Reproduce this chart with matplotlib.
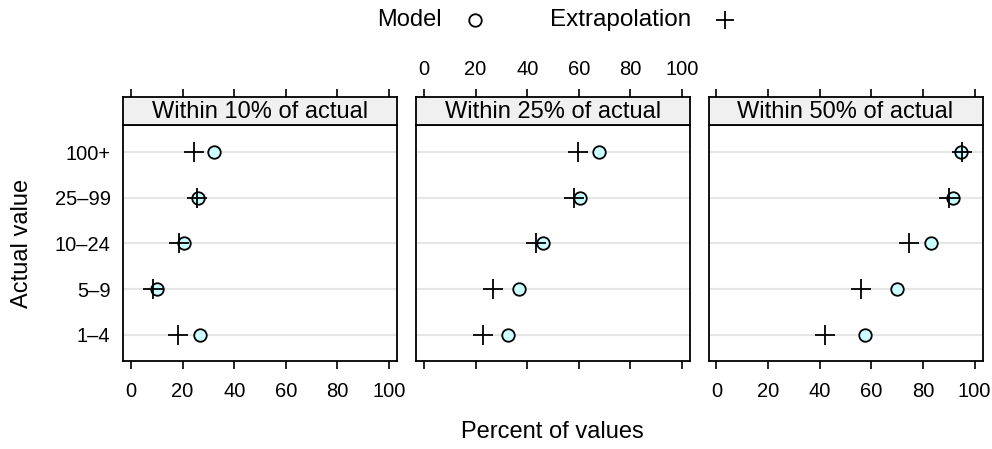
import matplotlib.pyplot as plt
from matplotlib.lines import Line2D

plt.rcParams['font.family'] = ['Liberation Sans', 'DejaVu Sans']

groups = ['1\u20134', '5\u20139', '10\u201324', '25\u201399', '100+']
panels = ['Within 10% of actual', 'Within 25% of actual', 'Within 50% of actual']

# percent of values, ordered as groups (1-4 ... 100+)
model = [
    [26.9, 10.2, 20.5, 25.9, 32.3],
    [32.5, 37.0, 46.1, 60.3, 67.7],
    [57.4, 69.8, 83.3, 91.6, 94.8],
]
extrap = [
    [18.3, 8.4, 18.7, 25.7, 24.4],
    [22.8, 26.7, 43.6, 58.1, 59.6],
    [41.9, 55.9, 74.8, 90.3, 95.1],
]
xticks = [0, 20, 40, 60, 80, 100]

W, H = 992, 449
fig = plt.figure(figsize=(W / 100, H / 100), dpi=100)

lefts = [123, 416, 708.5]
pw = 274
main_top, main_bot, strip_top = 125, 361, 97
ypos = list(range(1, len(groups) + 1))

for i in range(3):
    x0 = lefts[i] / W
    ax = fig.add_axes([x0, (H - main_bot) / H, pw / W, (main_bot - main_top) / H])
    st = fig.add_axes([x0, (H - main_top) / H, pw / W, (main_top - strip_top) / H])

    for y in ypos:
        ax.axhline(y, color='#e6e6e6', lw=1.5, zorder=0)
    ax.plot(model[i], ypos, 'o', ms=9, mfc='#ccffff', mec='black', mew=1.3,
            ls='none', zorder=2)
    ax.plot(extrap[i], ypos, '+', ms=14, mec='black', mew=1.3, ls='none', zorder=3)

    ax.set_xlim(-3.1, 103.1)
    ax.set_ylim(0.42, 5.6)
    ax.set_xticks(xticks)
    ax.set_yticks(ypos)
    ax.tick_params(axis='y', length=0, labelsize=14.5, pad=9)
    if i == 0:
        ax.set_yticklabels(groups)
    else:
        ax.set_yticklabels([])
    ax.tick_params(axis='x', direction='out', length=6, width=1.2, labelsize=14.5, pad=9)
    if i == 1:
        ax.set_xticklabels([])
    for s in ax.spines.values():
        s.set_linewidth(1.3)

    st.set_facecolor('#f0f0f0')
    st.set_xlim(-3.1, 103.1)
    st.set_ylim(0, 1)
    st.set_yticks([])
    st.set_xticks(xticks)
    st.xaxis.tick_top()
    st.tick_params(axis='x', direction='out', length=6, width=1.2, labelsize=14.5, pad=7)
    if i != 1:
        st.set_xticklabels([])
    for s in st.spines.values():
        s.set_linewidth(1.3)
    st.text(50, 0.48, panels[i], ha='center', va='center', fontsize=17)

fig.text(552 / W, 1 - 432 / H, 'Percent of values', ha='center', va='center', fontsize=17)
fig.text(22 / W, 1 - 243 / H, 'Actual value', ha='center', va='center',
         rotation=90, fontsize=17)

# key: text then symbol
fig.text(442 / W, 1 - 20 / H, 'Model', ha='right', va='center', fontsize=17)
fig.text(550 / W, 1 - 20 / H, 'Extrapolation', ha='left', va='center', fontsize=17.5)
fig.add_artist(Line2D([475 / W], [1 - 20 / H], marker='o', ms=9, mfc='none',
                      mec='black', mew=1.3, ls='none'))
fig.add_artist(Line2D([725 / W], [1 - 20 / H], marker='+', ms=13.5, mec='black',
                      mew=1.3, ls='none'))

fig.savefig('out.png', dpi=100)
